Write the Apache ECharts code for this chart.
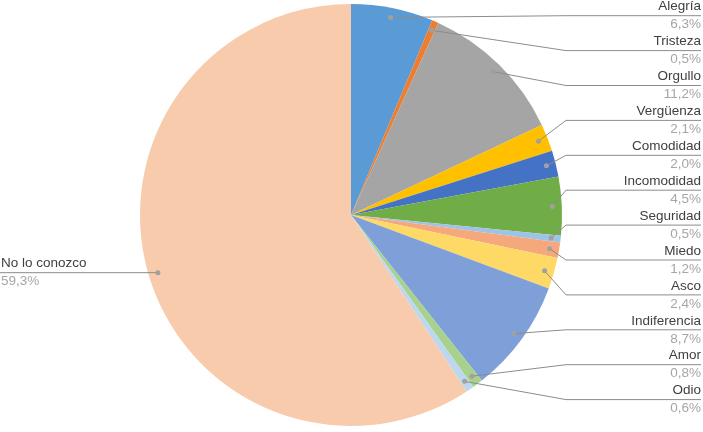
<!DOCTYPE html>
<html>
<head>
<meta charset="utf-8">
<script src="https://cdn.jsdelivr.net/npm/echarts@6/dist/echarts.min.js"></script>
<style>
  html, body { margin: 0; padding: 0; background: #fff; }
  #chart { width: 703px; height: 432px; }
</style>
</head>
<body>
<div id="chart"></div>
<script>
// slices, clockwise from the top
const categories = ['Alegría', 'Tristeza', 'Orgullo', 'Vergüenza', 'Comodidad', 'Incomodidad',
  'Seguridad', 'Miedo', 'Asco', 'Indiferencia', 'Amor', 'Odio', 'No lo conozco'];
const values = [6.3, 0.5, 11.2, 2.1, 2.0, 4.5, 0.5, 1.2, 2.4, 8.7, 0.8, 0.6, 59.3];
const colors = ['#5B9BD5', '#ED7D31', '#A5A5A5', '#FFC000', '#4472C4', '#70AD47',
  '#9DC3E6', '#F4A87C', '#FFD966', '#7F9FD8', '#A9D18E', '#BDD7EE', '#F8CBAD'];

const CX = 351, CY = 215, R = 211;
const DOT = 0.955;          // where the leader line starts, as part of the radius
const ELBOW_X = 566, RIGHT_X = 701;
const FONT = 'Liberation Sans';
const LAST = categories.length - 1;

const fmt = v => v.toFixed(1).replace('.', ',') + '%';
const total = values.reduce((a, b) => a + b, 0);
const labelY = i => 15.7 + i * 34.9;

// point at the middle of slice i, at a share k of the radius
function midPoint(i, k) {
  const before = values.slice(0, i).reduce((a, b) => a + b, 0);
  const a = (-90 + 360 * (before + values[i] / 2) / total) * Math.PI / 180;
  return [CX + R * k * Math.cos(a), CY + R * k * Math.sin(a)];
}

const chart = echarts.init(document.getElementById('chart'), null, { renderer: 'canvas' });

chart.setOption({
  animation: false,
  series: [
    {
      type: 'pie',
      center: [CX, CY],
      radius: R,
      startAngle: 90,
      clockwise: true,
      avoidLabelOverlap: false,
      data: categories.map((name, i) => ({
        name, value: values[i], itemStyle: { color: colors[i] }
      })),
      itemStyle: { borderWidth: 0 },
      emphasis: { disabled: true },
      label: {
        show: true,
        formatter: p => `{n|${p.name}}\n{v|${fmt(p.value)}}`,
        rich: {
          n: { fontFamily: FONT, fontSize: 13.5, color: '#404040', lineHeight: 18 },
          v: { fontFamily: FONT, fontSize: 13.5, color: '#A6A6A6', lineHeight: 18 }
        }
      },
      labelLine: { show: false },
      labelLayout: params => {
        const i = params.dataIndex;
        if (i === LAST) {
          return { x: 1, y: midPoint(i, DOT)[1], align: 'left', verticalAlign: 'middle' };
        }
        return { x: RIGHT_X, y: labelY(i), align: 'right', verticalAlign: 'middle' };
      }
    },
    {
      // leader lines with a grey dot inside each slice
      type: 'custom',
      coordinateSystem: 'none',
      silent: true,
      z: 3,
      data: values,
      renderItem: (params) => {
        const i = params.dataIndex;
        const dot = midPoint(i, DOT);
        const points = i === LAST
          ? [dot, [0, dot[1]]]
          : [dot, [ELBOW_X, labelY(i)], [RIGHT_X, labelY(i)]];
        return {
          type: 'group',
          children: [
            { type: 'polyline', shape: { points },
              style: { stroke: '#8C8C8C', lineWidth: 1, fill: null } },
            { type: 'circle', shape: { cx: dot[0], cy: dot[1], r: 2.5 },
              style: { fill: '#A0A0A0' } }
          ]
        };
      }
    }
  ]
});
</script>
</body>
</html>
